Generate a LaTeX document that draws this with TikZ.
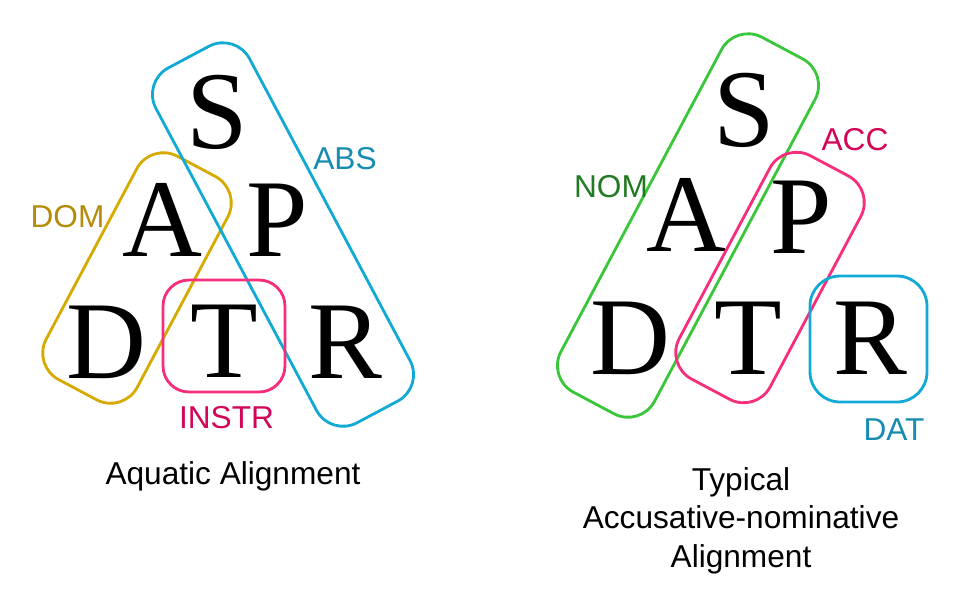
\documentclass[tikz,border=0pt]{standalone}
\usepackage{fontspec}
\setmainfont{Liberation Serif}
\setsansfont{Liberation Sans}
\usetikzlibrary{positioning}

\definecolor{domgold}{RGB}{214,170,0}
\definecolor{domtext}{RGB}{178,140,10}
\definecolor{absblue}{RGB}{16,170,212}
\definecolor{abstext}{RGB}{22,140,178}
\definecolor{instrpink}{RGB}{246,46,124}
\definecolor{instrtext}{RGB}{210,6,86}
\definecolor{nomgreen}{RGB}{58,198,58}
\definecolor{nomtext}{RGB}{34,122,34}

\tikzset{
  role/.style={font=\fontsize{63}{63}\selectfont, inner sep=0pt},
  casebox/.style={draw=#1, line width=1.6pt, inner sep=0pt},
  longbox/.style={casebox=#1, rounded corners=0.6cm, minimum width=8.04cm, minimum height=2.12cm},
  midbox/.style={casebox=#1, rounded corners=0.6cm, minimum width=5.06cm, minimum height=2.06cm},
  caselbl/.style={font=\sffamily\fontsize{18}{18}\selectfont, text=#1, inner sep=0pt},
  caption/.style={font=\sffamily\fontsize{18}{22}\selectfont, align=center, inner sep=0pt}
}

\begin{document}
\begin{tikzpicture}[x=0.02cm, y=-0.02cm]
    \useasboundingbox (0,0) rectangle (961,610);

    % aquatic alignment (left)
    \node[role] (sL) at (217,112) {S};
    \node[role] (aL) at (162,220) {A};
    \node[role] (pL) at (277,220) {P};
    \node[role] (dL) at (106,342) {D};
    \node[role] (tL) at (224,341) {T};
    \node[role] (rL) at (345,342) {R};

    \node[midbox=domgold, rotate=62] (dom) at (137,278) {};
    \node[longbox=absblue, rotate=-62] (abs) at (283,234.5) {};
    \node[casebox=instrpink, rounded corners=0.52cm, minimum width=2.44cm, minimum height=2.24cm] (instr) at (224,336) {};

    \node[caselbl=domtext] (domlbl) at (67.5,216.5) {DOM};
    \node[caselbl=abstext] (abslbl) at (345,158.5) {ABS};
    \node[caselbl=instrtext] (instrlbl) at (226.5,418) {INSTR};

    \node[caption, anchor=base] (capL) at (233,484) {Aquatic Alignment};

    % accusative-nominative alignment (right)
    \node[role] (sR) at (744,110) {S};
    \node[role] (aR) at (686,215) {A};
    \node[role] (pR) at (801,217) {P};
    \node[role] (dR) at (630,338) {D};
    \node[role] (tR) at (748,338) {T};
    \node[role] (rR) at (870,338) {R};

    \node[longbox=nomgreen, rotate=62] (nom) at (688,225.5) {};
    \node[midbox=instrpink, rotate=62] (acc) at (770,277.5) {};
    \node[casebox=absblue, rounded corners=0.6cm, minimum width=2.34cm, minimum height=2.52cm] (dat) at (868.5,339) {};

    \node[caselbl=nomtext] (nomlbl) at (611,187) {NOM};
    \node[caselbl=instrtext] (acclbl) at (855,140) {ACC};
    \node[caselbl=abstext] (datlbl) at (894,430) {DAT};

    \node[caption, anchor=north] (capR) at (741,467) {Typical\\Accusative-nominative\\Alignment};
\end{tikzpicture}
\end{document}
